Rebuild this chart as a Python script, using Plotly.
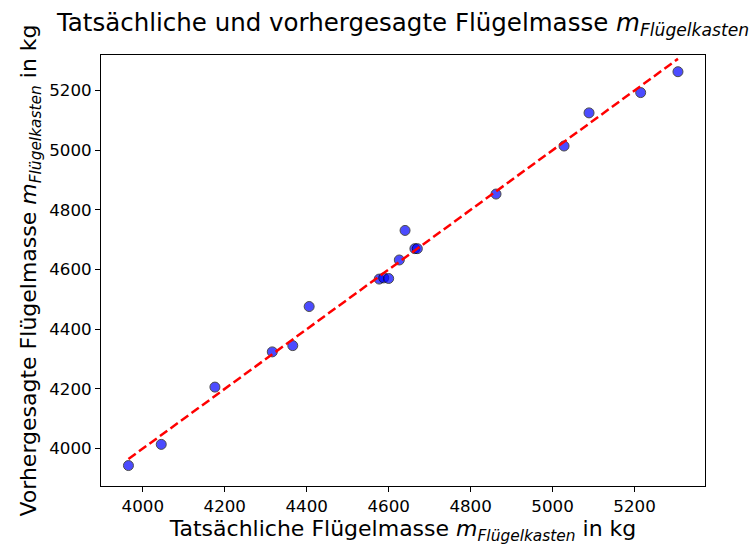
import plotly.graph_objects as go

# data
actual = [3965, 4045, 4176, 4316, 4366, 4406, 4577, 4588, 4600, 4626, 4640,
          4664, 4670, 4862, 5028, 5089, 5215, 5306]
predicted = [3943, 4014, 4206, 4324, 4345, 4476, 4568, 4572, 4570, 4632, 4731,
             4670, 4670, 4853, 5014, 5125, 5193, 5263]
line_x = [min(actual), max(actual)]
line_y = [min(actual), max(actual)]

x_ticks = [4000, 4200, 4400, 4600, 4800, 5000, 5200]
y_ticks = [4000, 4200, 4400, 4600, 4800, 5000, 5200]

FONT = "DejaVu Sans"
sub = "<i>m</i><sub><i>Flügelkasten</i></sub>"

fig = go.Figure()
fig.add_trace(go.Scatter(
    x=actual, y=predicted, mode="markers",
    marker=dict(size=10, color="blue", opacity=0.7,
                line=dict(color="black", width=1)),
    showlegend=False, hoverinfo="x+y"))
fig.add_trace(go.Scatter(
    x=line_x, y=line_y, mode="lines",
    line=dict(color="red", width=2.5, dash="9px,4px"),
    showlegend=False))

axis_common = dict(showgrid=False, zeroline=False, showline=True,
                   linecolor="black", linewidth=1, mirror=True,
                   ticks="outside", ticklen=5, tickwidth=1, tickcolor="black",
                   tickfont=dict(family=FONT, size=16.7, color="black"))

fig.update_layout(
    width=750, height=547,
    margin=dict(l=101, r=45, t=55, b=58),
    paper_bgcolor="white", plot_bgcolor="white",
    font=dict(family=FONT, color="black"),
    title=dict(text="Tatsächliche und vorhergesagte Flügelmasse " + sub,
               font=dict(family=FONT, size=24.5, color="black"),
               x=0.5, xref="paper", xanchor="center",
               y=1 - 22 / 547, yref="container", yanchor="middle"),
    xaxis=dict(range=[3898, 5372], tickvals=x_ticks,
               title=dict(text="Tatsächliche Flügelmasse " + sub + " in kg",
                          font=dict(family=FONT, size=22, color="black"),
                          standoff=4),
               **axis_common),
    yaxis=dict(range=[3874.5, 5319], tickvals=y_ticks,
               title=dict(text="Vorhergesagte Flügelmasse " + sub + " in kg",
                          font=dict(family=FONT, size=22, color="black"),
                          standoff=6),
               **axis_common),
)

fig.write_html("out.html")
